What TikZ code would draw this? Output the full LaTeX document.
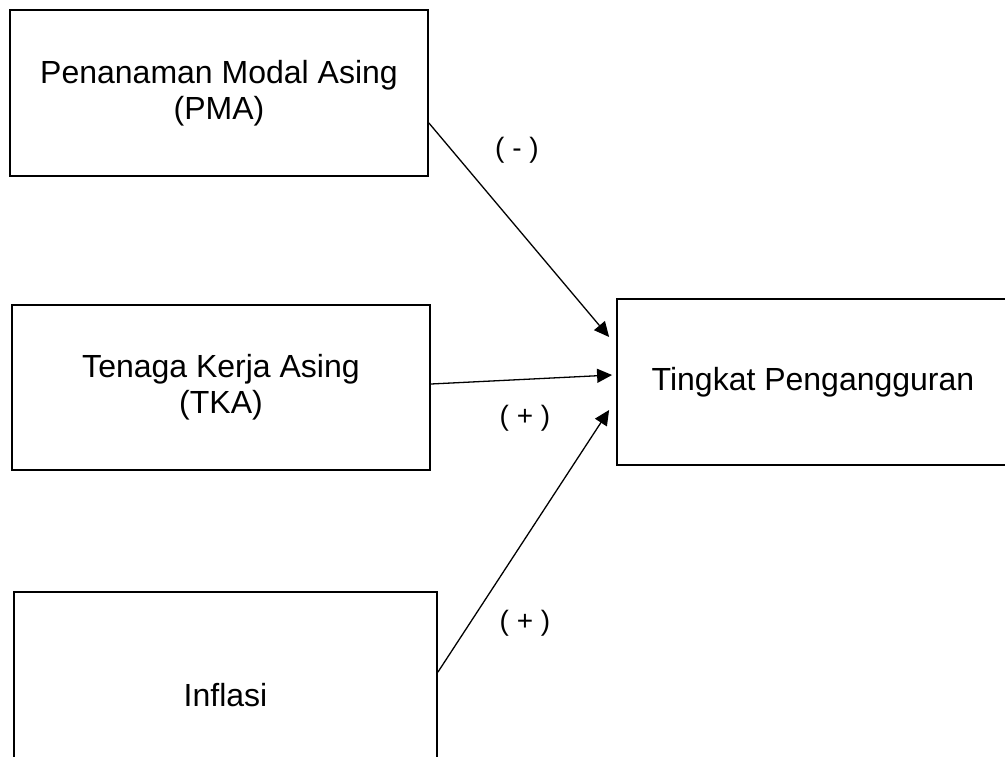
\documentclass[tikz,border=0pt]{standalone}
\usepackage{fontspec}
\setmainfont{Liberation Sans}
\usetikzlibrary{calc,arrows.meta}
\tikzset {>={Triangle[length=7.5pt,width=7pt]}}
\tikzset{
  varbox/.style={draw,line width=0.9pt,rectangle,align=center,inner sep=0pt,
    font=\fontsize{16pt}{18pt}\selectfont},
  sign/.style={font=\fontsize{14pt}{16pt}\selectfont},
  link/.style={->,line width=0.65pt}
}

\begin{document}
\begin{tikzpicture}[x=0.5pt,y=-0.5pt]

% Page frame
\path[use as bounding box,clip] (0,0) rectangle (1005,756);

% Place boxes (sizes in pt, half the pixel size)
\node[varbox,minimum width=209pt,minimum height=83pt] (pma) at (219,93)
  {Penanaman Modal Asing\\(PMA)};
\node[varbox,minimum width=209pt,minimum height=82.5pt] (tka) at (221,387.5)
  {Tenaga Kerja Asing\\(TKA)};
\node[varbox,minimum width=211.5pt,minimum height=103pt] (infl) at (225.5,695)
  {Inflasi};
\node[varbox,minimum width=196pt,minimum height=83pt] (tpg) at (813,382)
  {Tingkat Pengangguran};

% Arrow ends
\coordinate (pma-out) at ($(pma.east)+(0,30)$);
\coordinate (tka-out) at ($(tka.east)+(0,-3.5)$);
\coordinate (infl-out) at ($(infl.north east)+(0,81)$);
\coordinate (tpg-a) at ($(tpg.west)+(-7,-45)$);
\coordinate (tpg-b) at ($(tpg.west)+(-4,-7)$);
\coordinate (tpg-c) at ($(tpg.west)+(-7,28)$);

% Draw arrows
\draw [link] (pma-out) -- (tpg-a);
\draw [link] (tka-out) -- (tpg-b);
\draw [link] (infl-out) -- (tpg-c);

% Signs
\node[sign] (sign-a) at (517,150) {( - )};
\node[sign] (sign-b) at (525,418) {( + )};
\node[sign] (sign-c) at (525,623) {( + )};

\end{tikzpicture}
\end{document}
